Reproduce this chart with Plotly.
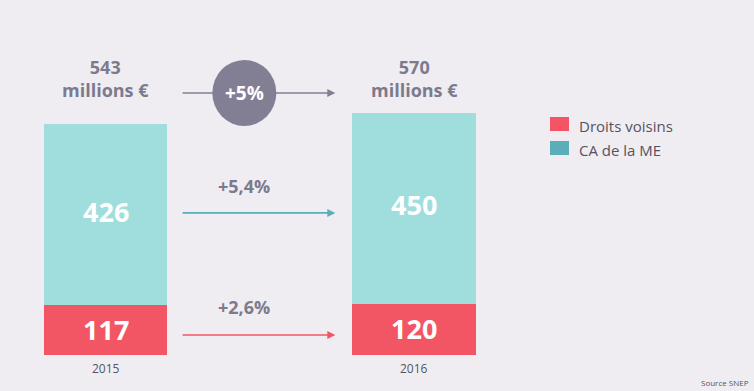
import plotly.graph_objects as go

years = ["2015", "2016"]
droits_voisins = [117, 120]
ca_me = [426, 450]
totals = [543, 570]
growth_total = "+5%"
growth_ca = "+5,4%"
growth_dv = "+2,6%"
legend_labels = ["Droits voisins", "CA de la ME"]

BG = "#efedf2"
RED = "#f25664"
TEAL_BAR = "#a0dedd"
TEAL_DARK = "#5aaeb8"
GRAY = "#7c7a8d"
CIRCLE = "#827f94"
FONT = "Open Sans"

xpos = [0, 1]
fig = go.Figure()
fig.add_trace(go.Bar(x=xpos, y=droits_voisins, marker=dict(color=RED, line=dict(width=0)),
                     width=0.4, showlegend=False, hoverinfo="skip"))
fig.add_trace(go.Bar(x=xpos, y=ca_me, marker=dict(color=TEAL_BAR, line=dict(width=0)),
                     width=0.4, showlegend=False, hoverinfo="skip"))

ann = []
for i in range(2):
    ann.append(dict(x=xpos[i], y=droits_voisins[i] / 2 + 2, text=f"<b>{droits_voisins[i]}</b>",
                    showarrow=False, font=dict(family=FONT, size=27, color="white")))
    ann.append(dict(x=xpos[i], y=droits_voisins[i] + ca_me[i] / 2 + 8, text=f"<b>{ca_me[i]}</b>",
                    showarrow=False, font=dict(family=FONT, size=27, color="white")))
    ann.append(dict(x=xpos[i], y=650, text=f"<b>{totals[i]}<br>millions €</b>",
                    showarrow=False, font=dict(family=FONT, size=18, color=GRAY),
                    yanchor="middle"))
    ann.append(dict(x=xpos[i], y=-31, text=years[i], showarrow=False,
                    font=dict(family=FONT, size=12, color="#555462")))

def arrow(y, color):
    return dict(x=0.745, y=y, ax=0.245, ay=y, xref="x", yref="y", axref="x", ayref="y",
                text="", showarrow=True, arrowhead=2, arrowsize=1, arrowwidth=1.6,
                arrowcolor=color)

y_total = 616
ann.append(arrow(y_total, CIRCLE))
ann.append(arrow(334, TEAL_DARK))
ann.append(arrow(47, RED))
ann.append(dict(x=0.45, y=397, text=f"<b>{growth_ca}</b>", showarrow=False,
                font=dict(family=FONT, size=18, color=GRAY)))
ann.append(dict(x=0.45, y=112, text=f"<b>{growth_dv}</b>", showarrow=False,
                font=dict(family=FONT, size=18, color=GRAY)))
ann.append(dict(x=0.45, y=y_total, text=f"<b>{growth_total}</b>", showarrow=False,
                font=dict(family=FONT, size=19, color="white")))

leg_font = dict(family=FONT, size=15, color="#55535f")
ann.append(dict(x=577 / 754, y=1 - 126 / 391, xref="paper", yref="paper", text=legend_labels[0],
                showarrow=False, xanchor="left", yanchor="middle", font=leg_font))
ann.append(dict(x=577 / 754, y=1 - 150 / 391, xref="paper", yref="paper", text=legend_labels[1],
                showarrow=False, xanchor="left", yanchor="middle", font=leg_font))
ann.append(dict(x=751 / 754, y=1 - 382 / 391, xref="paper", yref="paper", text="Source SNEP",
                showarrow=False, xanchor="right", yanchor="middle",
                font=dict(family=FONT, size=8, color="#555462")))

shapes = [
    dict(type="circle", xref="x", yref="y", x0=0.45 - 32 / 308.5, x1=0.45 + 32 / 308.5,
         y0=y_total - 33 / 0.4254, y1=y_total + 33 / 0.4254, fillcolor=CIRCLE, line=dict(width=0),
         layer="above"),
    dict(type="rect", xref="paper", yref="paper", x0=550 / 754, x1=569 / 754,
         y0=1 - 131 / 391, y1=1 - 117 / 391, fillcolor="#f45566", line=dict(width=0)),
    dict(type="rect", xref="paper", yref="paper", x0=550 / 754, x1=569 / 754,
         y0=1 - 155 / 391, y1=1 - 141 / 391, fillcolor=TEAL_DARK, line=dict(width=0)),
]

fig.update_layout(
    width=754, height=391, barmode="stack", bargap=0,
    margin=dict(l=0, r=0, t=0, b=0),
    paper_bgcolor=BG, plot_bgcolor=BG,
    xaxis=dict(range=[-105.5 / 308.5, (754 - 105.5) / 308.5], visible=False, fixedrange=True),
    yaxis=dict(range=[-36 / 0.4254, 355 / 0.4254], visible=False, fixedrange=True),
    annotations=ann, shapes=shapes, showlegend=False,
)
fig.write_html("out.html", config={"displayModeBar": False},
               post_script="document.body.style.margin='0';document.body.style.overflow='hidden';")
